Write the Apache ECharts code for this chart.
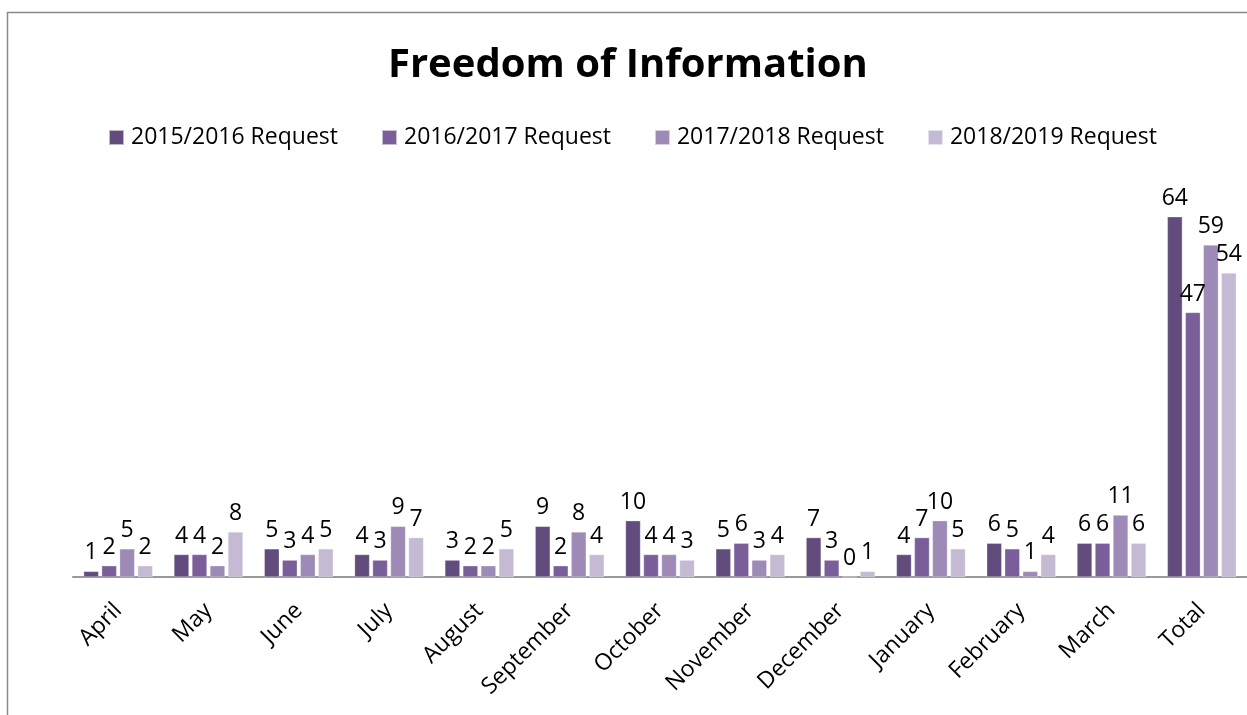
<!DOCTYPE html>
<html>
<head>
<meta charset="utf-8">
<script src="https://cdn.jsdelivr.net/npm/echarts@6/dist/echarts.min.js"></script>
<style>
html,body{margin:0;padding:0;background:#fff;}
#chart{width:1247px;height:715px;}
</style>
</head>
<body>
<div id="chart"></div>
<script>
const categories = ['April','May','June','July','August','September','October','November','December','January','February','March','Total'];
const seriesNames = ['2015/2016 Request','2016/2017 Request','2017/2018 Request','2018/2019 Request'];
const req1516 = [1,4,5,4,3,9,10,5,7,4,6,6,64];
const req1617 = [2,4,3,3,2,2,4,6,3,7,5,6,47];
const req1718 = [5,2,4,9,2,8,4,3,0,10,1,11,59];
const req1819 = [2,8,5,7,5,4,3,4,1,5,4,6,54];
const seriesData = [req1516, req1617, req1718, req1819];
const colors = ['#624C7E','#7A5E9A','#9D8AB6','#C4BAD3'];
const FONT = '"Open Sans", sans-serif';

const chart = echarts.init(document.getElementById('chart'));
chart.setOption({
  animation: false,
  color: colors,
  title: {
    text: 'Freedom of Information',
    left: 383,
    top: 41,
    textStyle: {fontFamily: FONT, fontSize: 40, fontWeight: 'bold', color: '#000'}
  },
  legend: {
    top: 121,
    left: 103,
    itemWidth: 15,
    itemHeight: 15,
    itemGap: 43,
    icon: 'rect',
    textStyle: {fontFamily: FONT, fontSize: 23, color: '#000', padding: [0, 0, 0, 2]},
    data: seriesNames
  },
  graphic: [{
    type: 'rect',
    shape: {x: 7.5, y: 12.5, width: 1400, height: 900},
    style: {fill: 'none', stroke: '#8a8a8a', lineWidth: 1.5},
    silent: true
  }],
  grid: {left: 73, right: -2, top: 183, bottom: 138, containLabel: false},
  xAxis: {
    type: 'category',
    data: categories,
    axisTick: {show: false},
    axisLine: {lineStyle: {color: '#999', width: 2}},
    axisLabel: {
      rotate: 45,
      interval: 0,
      margin: 30,
      fontFamily: FONT,
      fontSize: 23,
      color: '#000'
    }
  },
  yAxis: {
    type: 'value',
    min: 0,
    max: 70,
    show: false,
    splitLine: {show: false}
  },
  series: seriesData.map((d, i) => ({
    name: seriesNames[i],
    type: 'bar',
    data: d,
    barWidth: 15,
    barGap: '20%',
    itemStyle: {color: colors[i], borderColor: 'rgba(255,255,255,0.6)', borderWidth: 0.5},
    label: {
      show: true,
      position: 'top',
      distance: 7,
      fontFamily: FONT,
      fontSize: 23,
      color: '#000'
    }
  }))
});
</script>
</body>
</html>
